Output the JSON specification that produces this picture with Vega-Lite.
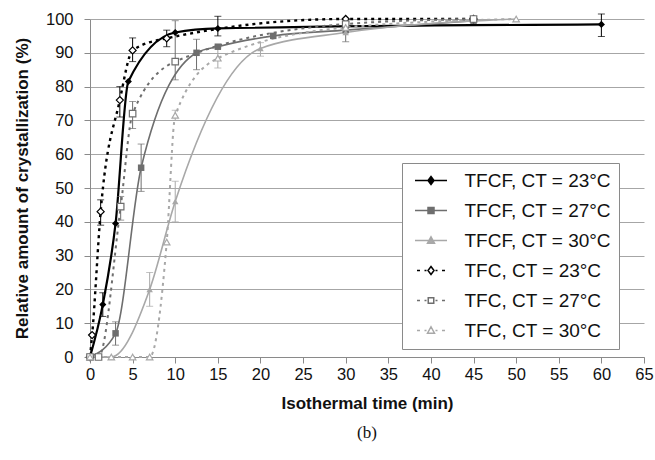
{
  "$schema": "https://vega.github.io/schema/vega-lite/v6.json",
  "width": 554,
  "height": 338,
  "autosize": {"type": "none"},
  "padding": {"left": 90, "top": 19, "right": 11, "bottom": 103},
  "background": "white",
  "title": {"text": "(b)", "orient": "bottom", "anchor": "middle", "font": "Liberation Serif", "fontSize": 17, "fontWeight": "normal", "color": "#111", "offset": 13},
  "config": {
    "font": "Liberation Sans",
    "view": {"stroke": null},
    "axis": {"labelFont": "Liberation Sans", "labelFontSize": 16.5, "labelColor": "#111", "titleFont": "Liberation Sans", "titleFontSize": 17, "titleFontWeight": "bold", "titleColor": "#111", "domainColor": "#8a8a8a", "tickColor": "#8a8a8a", "tickSize": 6, "gridColor": "#a6a6a6", "gridOpacity": 1}
  },
  "data": {
    "values": [
      {"s": "TFCF, CT = 23°C", "t": 0, "v": 0},
      {"s": "TFCF, CT = 23°C", "t": 1.5, "v": 15.5, "lo": 12, "hi": 19},
      {"s": "TFCF, CT = 23°C", "t": 3, "v": 39.5},
      {"s": "TFCF, CT = 23°C", "t": 4.5, "v": 81.5},
      {"s": "TFCF, CT = 23°C", "t": 10, "v": 96},
      {"s": "TFCF, CT = 23°C", "t": 15, "v": 97.2, "lo": 95, "hi": 100.8},
      {"s": "TFCF, CT = 23°C", "t": 60, "v": 98.4, "lo": 94.8, "hi": 101.5},
      {"s": "TFCF, CT = 27°C", "t": 0, "v": 0},
      {"s": "TFCF, CT = 27°C", "t": 3, "v": 7, "lo": 3.5, "hi": 10.4},
      {"s": "TFCF, CT = 27°C", "t": 6, "v": 56, "lo": 49, "hi": 63},
      {"s": "TFCF, CT = 27°C", "t": 12.5, "v": 90, "lo": 85, "hi": 94},
      {"s": "TFCF, CT = 27°C", "t": 15, "v": 91.8},
      {"s": "TFCF, CT = 27°C", "t": 21.5, "v": 95},
      {"s": "TFCF, CT = 27°C", "t": 30, "v": 96.7, "lo": 93.3, "hi": 99.2},
      {"s": "TFCF, CT = 27°C", "t": 45, "v": 99.5},
      {"s": "TFCF, CT = 30°C", "t": 0, "v": 0},
      {"s": "TFCF, CT = 30°C", "t": 2.5, "v": 0},
      {"s": "TFCF, CT = 30°C", "t": 7, "v": 20, "lo": 15, "hi": 25},
      {"s": "TFCF, CT = 30°C", "t": 10, "v": 46, "lo": 40, "hi": 52},
      {"s": "TFCF, CT = 30°C", "t": 20, "v": 91.3, "lo": 89, "hi": 93},
      {"s": "TFCF, CT = 30°C", "t": 30, "v": 96},
      {"s": "TFCF, CT = 30°C", "t": 50, "v": 100},
      {"s": "TFC, CT = 23°C", "t": 0, "v": 0},
      {"s": "TFC, CT = 23°C", "t": 0.25, "v": 6.5},
      {"s": "TFC, CT = 23°C", "t": 1.25, "v": 43, "lo": 39, "hi": 46.5},
      {"s": "TFC, CT = 23°C", "t": 3.5, "v": 76, "lo": 71, "hi": 80},
      {"s": "TFC, CT = 23°C", "t": 5, "v": 90.7, "lo": 87.4, "hi": 94.4},
      {"s": "TFC, CT = 23°C", "t": 9, "v": 94.3, "lo": 91.8, "hi": 96.7},
      {"s": "TFC, CT = 23°C", "t": 30, "v": 100},
      {"s": "TFC, CT = 23°C", "t": 45, "v": 100},
      {"s": "TFC, CT = 27°C", "t": 0, "v": 0},
      {"s": "TFC, CT = 27°C", "t": 1, "v": 0},
      {"s": "TFC, CT = 27°C", "t": 3.6, "v": 44.5, "lo": 40.5, "hi": 47.5},
      {"s": "TFC, CT = 27°C", "t": 5, "v": 72, "lo": 67.6, "hi": 75.6},
      {"s": "TFC, CT = 27°C", "t": 10, "v": 87.4, "lo": 82, "hi": 99.5},
      {"s": "TFC, CT = 27°C", "t": 30, "v": 98.5},
      {"s": "TFC, CT = 27°C", "t": 45, "v": 100},
      {"s": "TFC, CT = 30°C", "t": 0, "v": 0},
      {"s": "TFC, CT = 30°C", "t": 2.5, "v": 0},
      {"s": "TFC, CT = 30°C", "t": 5, "v": 0},
      {"s": "TFC, CT = 30°C", "t": 7, "v": 0},
      {"s": "TFC, CT = 30°C", "t": 9, "v": 34},
      {"s": "TFC, CT = 30°C", "t": 10, "v": 71.5, "lo": 70, "hi": 73},
      {"s": "TFC, CT = 30°C", "t": 15, "v": 88.4, "lo": 85.5, "hi": 91.5},
      {"s": "TFC, CT = 30°C", "t": 30, "v": 97.5},
      {"s": "TFC, CT = 30°C", "t": 50, "v": 100}
    ]
  },
  "encoding": {
    "x": {"field": "t", "type": "quantitative", "scale": {"domain": [0, 65], "nice": false, "zero": false},
          "axis": {"values": [0,5,10,15,20,25,30,35,40,45,50,55,60,65], "grid": false, "labelPadding": 3, "titlePadding": 13, "labelFlush": false, "title": "Isothermal time (min)"}},
    "y": {"field": "v", "type": "quantitative", "scale": {"domain": [0, 100], "nice": false},
          "axis": {"values": [0,10,20,30,40,50,60,70,80,90,100], "grid": true, "labelPadding": 11, "titlePadding": 14, "title": "Relative amount of crystallization (%)"}}
  },
  "layer": [
    {
      "mark": {"type": "point", "filled": false, "opacity": 0, "size": 10},
      "encoding": {
        "color": {
          "field": "s", "type": "nominal",
          "scale": {"domain": ["TFCF, CT = 23°C", "TFCF, CT = 27°C", "TFCF, CT = 30°C", "TFC, CT = 23°C", "TFC, CT = 27°C", "TFC, CT = 30°C"],
                    "range": ["#000000", "#6e6e6e", "#a8a8a8", "#000000", "#6e6e6e", "#a8a8a8"]},
          "legend": {
            "title": null, "orient": "none", "legendX": 312, "legendY": 144,
            "strokeColor": "#8a8a8a", "fillColor": "white", "padding": 8,
            "labelFontSize": 19, "labelColor": "#111", "labelFont": "Liberation Sans",
            "symbolSize": 100, "symbolStrokeWidth": 1.5, "symbolOpacity": 1, "symbolFillColor": "#ffffff", "symbolOffset": 11.5, "labelOffset": 24, "rowPadding": 10
          }
        },
        "shape": {
          "field": "s", "type": "nominal",
          "scale": {"domain": ["TFCF, CT = 23°C", "TFCF, CT = 27°C", "TFCF, CT = 30°C", "TFC, CT = 23°C", "TFC, CT = 27°C", "TFC, CT = 30°C"],
                    "range": [
                      "M-3.2,0L3.2,0M0,-0.8L0.6,0L0,0.8L-0.6,0ZM0,-0.5L0.375,0L0,0.5L-0.375,0ZM0,-0.2L0.15,0L0,0.2L-0.15,0Z",
                      "M-3.2,0L3.2,0M-0.6,-0.6L0.6,-0.6L0.6,0.6L-0.6,0.6ZM-0.3,-0.3L0.3,-0.3L0.3,0.3L-0.3,0.3ZM-0.05,0L0.05,0",
                      "M-3.2,0L3.2,0M0,-0.75L0.7,0.55L-0.7,0.55ZM0,-0.317L0.35,0.333L-0.35,0.333ZM-0.05,0.117L0.05,0.117",
                      "M-2.8,0L-2.2,0M-1.3,0L-0.9,0M0.9,0L1.3,0M2.2,0L2.8,0M0,-0.8L0.6,0L0,0.8L-0.6,0Z",
                      "M-2.8,0L-2.2,0M-1.3,0L-0.9,0M0.9,0L1.3,0M2.2,0L2.8,0M-0.55,-0.55L0.55,-0.55L0.55,0.55L-0.55,0.55Z",
                      "M-2.8,0L-2.2,0M-1.3,0L-0.9,0M0.9,0L1.3,0M2.2,0L2.8,0M0,-0.75L0.7,0.55L-0.7,0.55Z"
                    ]},
          "legend": {
            "title": null, "orient": "none", "legendX": 312, "legendY": 144,
            "strokeColor": "#8a8a8a", "fillColor": "white", "padding": 8,
            "labelFontSize": 19, "labelColor": "#111", "labelFont": "Liberation Sans",
            "symbolSize": 100, "symbolStrokeWidth": 1.5, "symbolOpacity": 1, "symbolFillColor": "#ffffff", "symbolOffset": 11.5, "labelOffset": 24, "rowPadding": 10
          }
        }
      }
    },
    {
      "transform": [{"filter": "datum.s == 'TFCF, CT = 23°C'"}],
      "mark": {"type": "line", "interpolate": "monotone", "strokeWidth": 2.2},
      "encoding": {"color": {"field": "s", "type": "nominal", "legend": null}}
    },
    {
      "transform": [{"filter": "datum.s == 'TFCF, CT = 27°C' || datum.s == 'TFCF, CT = 30°C'"}],
      "mark": {"type": "line", "interpolate": "monotone", "strokeWidth": 1.6},
      "encoding": {"color": {"field": "s", "type": "nominal", "legend": null}}
    },
    {
      "transform": [{"filter": "datum.s == 'TFC, CT = 23°C'"}],
      "mark": {"type": "line", "interpolate": "monotone", "strokeWidth": 2.4, "strokeDash": [3, 4]},
      "encoding": {"color": {"field": "s", "type": "nominal", "legend": null}}
    },
    {
      "transform": [{"filter": "datum.s == 'TFC, CT = 27°C' || datum.s == 'TFC, CT = 30°C'"}],
      "mark": {"type": "line", "interpolate": "monotone", "strokeWidth": 2, "strokeDash": [3, 4]},
      "encoding": {"color": {"field": "s", "type": "nominal", "legend": null}}
    },
    {
      "transform": [{"filter": "isValid(datum.lo) && indexof(datum.s, '23') >= 0"}],
      "mark": {"type": "errorbar", "ticks": {"size": 7, "color": "#000000"}, "color": "#000000", "thickness": 1},
      "encoding": {
        "y": {"field": "lo", "type": "quantitative", "scale": {"domain": [0, 100], "nice": false},
              "axis": {"values": [0,10,20,30,40,50,60,70,80,90,100], "grid": true, "labelPadding": 11, "titlePadding": 14, "title": "Relative amount of crystallization (%)"}},
        "y2": {"field": "hi"}
      }
    },
    {
      "transform": [{"filter": "isValid(datum.lo) && indexof(datum.s, '27') >= 0"}],
      "mark": {"type": "errorbar", "ticks": {"size": 7, "color": "#6e6e6e"}, "color": "#6e6e6e", "thickness": 1},
      "encoding": {
        "y": {"field": "lo", "type": "quantitative", "scale": {"domain": [0, 100], "nice": false},
              "axis": {"values": [0,10,20,30,40,50,60,70,80,90,100], "grid": true, "labelPadding": 11, "titlePadding": 14, "title": "Relative amount of crystallization (%)"}},
        "y2": {"field": "hi"}
      }
    },
    {
      "transform": [{"filter": "isValid(datum.lo) && indexof(datum.s, '30') >= 0"}],
      "mark": {"type": "errorbar", "ticks": {"size": 7, "color": "#a8a8a8"}, "color": "#a8a8a8", "thickness": 1},
      "encoding": {
        "y": {"field": "lo", "type": "quantitative", "scale": {"domain": [0, 100], "nice": false},
              "axis": {"values": [0,10,20,30,40,50,60,70,80,90,100], "grid": true, "labelPadding": 11, "titlePadding": 14, "title": "Relative amount of crystallization (%)"}},
        "y2": {"field": "hi"}
      }
    },
    {
      "transform": [{"filter": "datum.s == 'TFCF, CT = 23°C'"}],
      "mark": {"type": "point", "shape": "diamond", "filled": true, "color": "#000000", "size": 50, "opacity": 1}
    },
    {
      "transform": [{"filter": "datum.s == 'TFCF, CT = 27°C'"}],
      "mark": {"type": "point", "shape": "square", "filled": true, "color": "#6e6e6e", "size": 42, "opacity": 1}
    },
    {
      "transform": [{"filter": "datum.s == 'TFCF, CT = 30°C'"}],
      "mark": {"type": "point", "shape": "triangle-up", "filled": true, "color": "#a8a8a8", "size": 42, "opacity": 1}
    },
    {
      "transform": [{"filter": "datum.s == 'TFC, CT = 23°C'"}],
      "mark": {"type": "point", "shape": "diamond", "filled": false, "fill": "#ffffff", "stroke": "#000000", "strokeWidth": 1.2, "size": 50, "opacity": 1}
    },
    {
      "transform": [{"filter": "datum.s == 'TFC, CT = 27°C'"}],
      "mark": {"type": "point", "shape": "square", "filled": false, "fill": "#ffffff", "stroke": "#6e6e6e", "strokeWidth": 1.2, "size": 42, "opacity": 1}
    },
    {
      "transform": [{"filter": "datum.s == 'TFC, CT = 30°C'"}],
      "mark": {"type": "point", "shape": "triangle-up", "filled": false, "fill": "#ffffff", "stroke": "#a8a8a8", "strokeWidth": 1.2, "size": 42, "opacity": 1}
    }
  ]
}
